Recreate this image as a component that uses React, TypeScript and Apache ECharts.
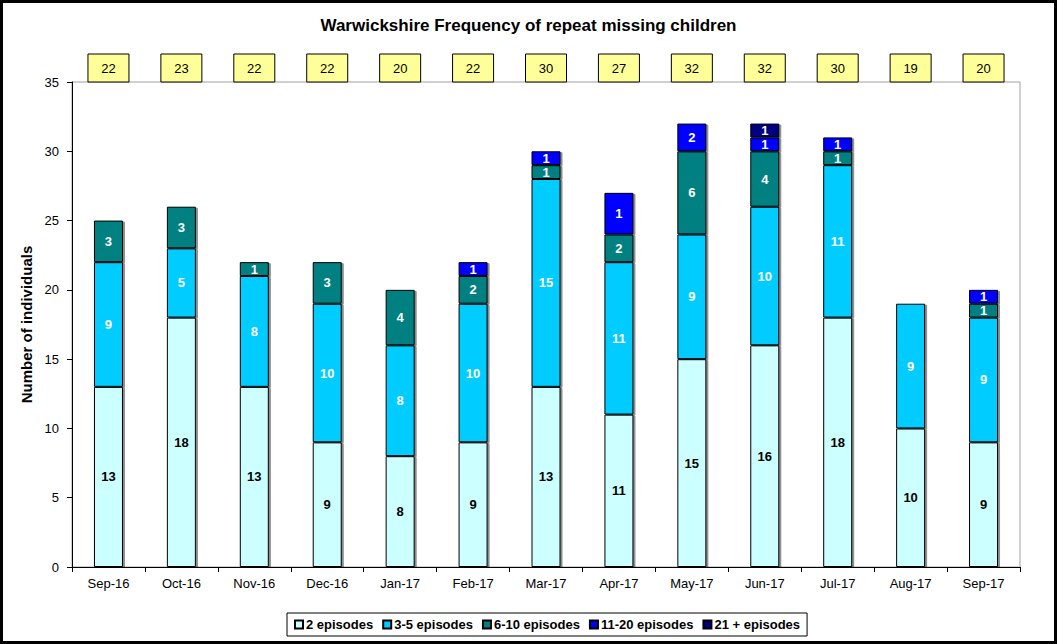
import React, { useEffect, useRef } from "react";
import * as echarts from "echarts";

const categories = ["Sep-16", "Oct-16", "Nov-16", "Dec-16", "Jan-17", "Feb-17", "Mar-17", "Apr-17", "May-17", "Jun-17", "Jul-17", "Aug-17", "Sep-17"];
const ep2 = [13, 18, 13, 9, 8, 9, 13, 11, 15, 16, 18, 10, 9];
const ep3to5 = [9, 5, 8, 10, 8, 10, 15, 11, 9, 10, 11, 9, 9];
const ep6to10 = [3, 3, 1, 3, 4, 2, 1, 2, 6, 4, 1, null, 1];
const ep11to20 = [null, null, null, null, null, 1, 1, 3, 2, 1, 1, null, 1];
const ep11to20Labels = ["", "", "", "", "", "1", "1", "1", "2", "1", "1", "", "1"];
const ep21plus = [null, null, null, null, null, null, null, null, null, 1, null, null, null];
const boxTotals = [22, 23, 22, 22, 20, 22, 30, 27, 32, 32, 30, 19, 20];
const seriesNames = ["2 episodes", "3-5 episodes", "6-10 episodes", "11-20 episodes", "21 + episodes"];
const seriesColors = ["#CCFFFF", "#00CCFF", "#008080", "#0000FF", "#000080"];
const yTicks = { min: 0, max: 35, interval: 5 };

const FONT = "'Liberation Sans', Arial, sans-serif";

export default function App() {
  const ref = useRef<HTMLDivElement>(null);
  useEffect(() => {
    document.body.style.margin = "0";
    const chart = echarts.init(ref.current!, null, { renderer: "svg" });
    const values = [ep2, ep3to5, ep6to10, ep11to20, ep21plus];
    const barSeries = values.map((arr, si) => ({
      name: seriesNames[si],
      type: "bar",
      stack: "total",
      barWidth: 29,
      data: arr,
      itemStyle: {
        color: seriesColors[si],
        borderColor: "#000",
        borderWidth: 1,
        shadowColor: "rgba(0,0,0,0.45)",
        shadowOffsetX: 2,
        shadowOffsetY: 1,
        shadowBlur: 1,
      },
      label: {
        show: true,
        position: "inside",
        color: si === 0 ? "#000" : "#fff",
        fontWeight: "bold",
        fontSize: 13,
        fontFamily: FONT,
        formatter: (p: any) => {
          if (p.value == null) return "";
          if (si === 3) return ep11to20Labels[p.dataIndex];
          return String(p.value);
        },
      },
    }));
    const boxSeries = {
      name: "totals",
      type: "custom",
      coordinateSystem: "cartesian2d",
      clip: false,
      silent: true,
      z: 10,
      data: boxTotals.map((v, i) => [i, yTicks.max, v]),
      encode: { x: 0, y: 1 },
      renderItem: (params: any, api: any) => {
        const p = api.coord([api.value(0), api.value(1)]);
        const w = 41;
        const h = 28;
        return {
          type: "group",
          children: [
            {
              type: "rect",
              shape: { x: p[0] - w / 2, y: p[1] - h, width: w, height: h },
              style: { fill: "#FFFF99", stroke: "#000", lineWidth: 1 },
            },
            {
              type: "text",
              x: p[0],
              y: p[1] - h / 2,
              style: {
                text: String(api.value(2)),
                fill: "#000",
                font: `13px ${FONT}`,
                align: "center",
                verticalAlign: "middle",
              },
            },
          ],
        };
      },
    };
    chart.setOption({
      animation: false,
      backgroundColor: "#fff",
      title: {
        text: "Warwickshire Frequency of repeat missing children",
        left: "center",
        top: 12,
        textStyle: { fontSize: 17, fontWeight: "bold", fontFamily: FONT, color: "#000" },
      },
      grid: {
        left: 72,
        right: 37,
        top: 82,
        bottom: 77,
        show: true,
        borderColor: "#a0a0a0",
        borderWidth: 1,
        backgroundColor: "transparent",
      },
      legend: {
        data: seriesNames,
        left: 287,
        top: 613,
        itemWidth: 8,
        itemHeight: 8,
        itemGap: 9,
        padding: [5, 7, 5, 7],
        borderColor: "#000",
        borderWidth: 1,
        textStyle: { fontSize: 13, fontWeight: "bold", fontFamily: FONT, color: "#000", padding: [0, 0, 0, -2] },
        icon: "rect",
      },
      xAxis: {
        type: "category",
        data: categories,
        axisLine: { show: true, lineStyle: { color: "#000", width: 1 } },
        axisTick: { show: true, length: 5, lineStyle: { color: "#000" } },
        axisLabel: { fontSize: 13, fontFamily: FONT, color: "#000", margin: 10 },
      },
      yAxis: {
        type: "value",
        min: yTicks.min,
        max: yTicks.max,
        interval: yTicks.interval,
        name: "Number of individuals",
        nameLocation: "middle",
        nameGap: 36,
        nameTextStyle: { fontSize: 15, fontWeight: "bold", fontFamily: FONT, color: "#000" },
        splitLine: { show: false },
        axisLine: { show: true, lineStyle: { color: "#000", width: 1 } },
        axisTick: { show: true, length: 5, lineStyle: { color: "#000" } },
        axisLabel: { fontSize: 13, fontFamily: FONT, color: "#000", margin: 13 },
      },
      graphic: [
        {
          type: "rect",
          shape: { x: 1.5, y: 1.5, width: 1054, height: 641 },
          style: { fill: "none", stroke: "#000", lineWidth: 3 },
          silent: true,
          z: 100,
        },
      ],
      series: [...barSeries, boxSeries],
    });
    return () => chart.dispose();
  }, []);
  return <div ref={ref} style={{ width: 1057, height: 644 }} />;
}
